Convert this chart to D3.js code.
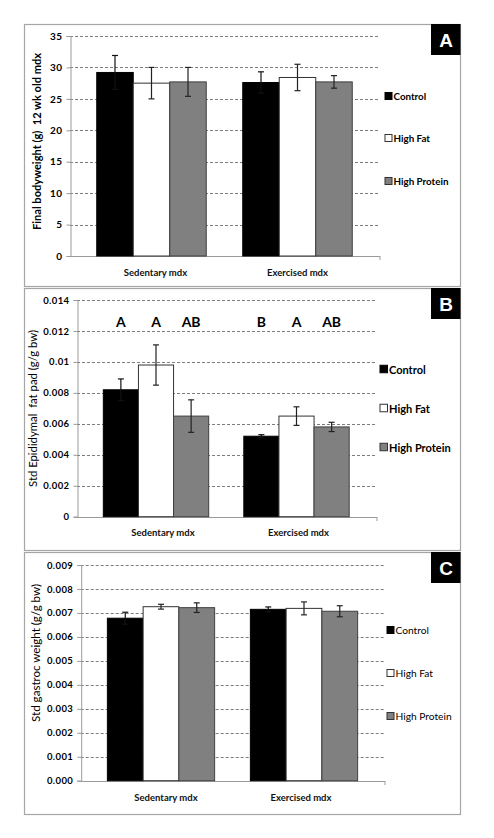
<!DOCTYPE html>
<html><head><meta charset="utf-8">
<script src="https://cdn.jsdelivr.net/npm/d3@7"></script>
<style>
html,body{margin:0;padding:0;background:#fff;}
svg{display:block;font-family:Lato,"Open Sans",sans-serif;}
</style></head>
<body><svg id="chart" width="494" height="838"></svg>
<script>
// ---- data ----
const categories = ["Sedentary mdx", "Exercised mdx"];
const seriesNames = ["Control", "High Fat", "High Protein"];
// values indexed [category][series]
const weightMeans  = [[29.2, 27.5, 27.7], [27.6, 28.4, 27.7]];
const weightErrors = [[2.7, 2.5, 2.3], [1.7, 2.1, 1.0]];
const weightTicks  = [0, 5, 10, 15, 20, 25, 30, 35];

const fatMeans   = [[0.0082, 0.0098, 0.0065], [0.0052, 0.0065, 0.0058]];
const fatErrors  = [[0.0007, 0.0013, 0.00105], [0.0001, 0.0006, 0.0003]];
const fatLetters = [["A", "A", "AB"], ["B", "A", "AB"]];
const fatTicks   = [0, 0.002, 0.004, 0.006, 0.008, 0.01, 0.012, 0.014];

const gastrocMeans  = [[0.00678, 0.00726, 0.00722], [0.00715, 0.00719, 0.00707]];
const gastrocErrors = [[0.00025, 0.0001, 0.0002], [0.0001, 0.00027, 0.00023]];
const gastrocTicks  = [0, 0.001, 0.002, 0.003, 0.004, 0.005, 0.006, 0.007, 0.008, 0.009];

const panelLabels = ["A", "B", "C"];
const yTitles = ["Final bodyweight (g)  12 wk old mdx", "Std Epididymal  fat pad (g/g bw)", "Std gastroc weight (g/g bw)"];

// ---- styles ----
const fills = ["#000000", "#ffffff", "#808080"];
const strokes = ["#000000", "#333333", "#404040"];

const svg = d3.select("#chart");

function drawPanel(cfg) {
  const g = svg.append("g");
  // frame
  g.append("rect").attr("x", cfg.box[0] + 0.5).attr("y", cfg.box[1] + 0.5)
    .attr("width", cfg.box[2] - cfg.box[0]).attr("height", cfg.box[3] - cfg.box[1])
    .attr("fill", "#fff").attr("stroke", "#a6a6a6").attr("stroke-width", 1.2);

  const y = d3.scaleLinear().domain([cfg.ticks[0], cfg.ticks[cfg.ticks.length - 1]]).range([cfg.yBottom, cfg.yTop]);
  const x0 = d3.scaleBand().domain(categories).range(cfg.band).padding(0);
  const x1 = d3.scaleBand().domain(seriesNames).range([x0.bandwidth() * 0.125, x0.bandwidth() * 0.875]).padding(0);

  // gridlines
  g.append("g").selectAll("line").data(cfg.ticks.slice(1)).join("line")
    .attr("x1", cfg.axisX).attr("x2", cfg.plotRight)
    .attr("y1", d => Math.round(y(d)) + 0.5).attr("y2", d => Math.round(y(d)) + 0.5)
    .attr("stroke", "#6e6e6e").attr("stroke-width", 0.9).attr("stroke-dasharray", "3,2");

  // y axis
  const yAxis = d3.axisLeft(y).tickValues(cfg.ticks).tickFormat(cfg.fmt).tickSize(4).tickPadding(4);
  const ya = g.append("g").attr("transform", `translate(${cfg.axisX + 0.5},0)`).call(yAxis);
  ya.select(".domain").attr("stroke", "#9a9a9a");
  ya.selectAll(".tick line").attr("stroke", "#9a9a9a");
  ya.selectAll(".tick text").attr("font-size", cfg.tickFont).attr("font-weight", "bold").attr("fill", "#000")
    .attr("font-family", "Lato,sans-serif").attr("letter-spacing", 0.4);

  // x axis line
  g.append("line").attr("x1", cfg.axisX).attr("x2", cfg.plotRight + 1)
    .attr("y1", Math.round(cfg.yBottom) + 0.5).attr("y2", Math.round(cfg.yBottom) + 0.5).attr("stroke", "#9a9a9a");
  g.append("line").attr("x1", cfg.plotRight + 1).attr("x2", cfg.plotRight + 1)
    .attr("y1", Math.round(cfg.yBottom)).attr("y2", Math.round(cfg.yBottom) + 4).attr("stroke", "#9a9a9a");

  // bars
  const groups = g.append("g").selectAll("g").data(categories).join("g")
    .attr("transform", c => `translate(${x0(c)},0)`);
  groups.each(function (c, ci) {
    const gg = d3.select(this);
    seriesNames.forEach((s, si) => {
      const v = cfg.means[ci][si], e = cfg.errors[ci][si];
      const bx = x1(s), bw = x1.bandwidth();
      gg.append("rect").attr("x", bx).attr("y", y(v)).attr("width", bw).attr("height", y(cfg.ticks[0]) - y(v))
        .attr("fill", fills[si]).attr("stroke", strokes[si]).attr("stroke-width", 1);
      const cx = bx + bw / 2;
      const ec = si === 0 ? "#111" : "#222";
      gg.append("line").attr("x1", cx).attr("x2", cx).attr("y1", y(v + e)).attr("y2", y(v - e))
        .attr("stroke", ec).attr("stroke-width", 1.2);
      [v + e, v - e].forEach(t => {
        gg.append("line").attr("x1", cx - 3).attr("x2", cx + 3).attr("y1", y(t)).attr("y2", y(t))
          .attr("stroke", ec).attr("stroke-width", 1.2);
      });
      if (cfg.letters) {
        gg.append("text").attr("x", cx).attr("y", cfg.letterY).attr("text-anchor", "middle")
          .attr("dominant-baseline", "central").attr("font-size", 14).attr("font-weight", "bold")
          .attr("font-family", "Lato,sans-serif").text(cfg.letters[ci][si]);
      }
    });
  });

  // category labels
  g.append("g").selectAll("text").data(categories).join("text")
    .attr("x", (c, i) => x0(c) + x0.bandwidth() / 2 + cfg.catShift[i]).attr("y", cfg.catY)
    .attr("text-anchor", "middle").attr("dominant-baseline", "central")
    .attr("font-size", cfg.catFont).attr("font-weight", "bold").attr("fill", "#111").text(c => c);

  // y title
  g.append("text").attr("transform", `translate(${cfg.titleX},${cfg.titleY}) rotate(-90)`)
    .attr("text-anchor", "middle").attr("dominant-baseline", "central")
    .attr("font-size", cfg.titleFont).attr("font-weight", cfg.titleWeight).attr("fill", "#000")
    .attr("textLength", cfg.titleLen).attr("lengthAdjust", "spacingAndGlyphs")
    .style("white-space", "pre").text(cfg.title);

  // legend
  const lg = g.append("g").selectAll("g").data(seriesNames).join("g")
    .attr("transform", (s, i) => `translate(${cfg.legX},${cfg.legY[i]})`);
  lg.append("rect").attr("x", 0).attr("y", -cfg.legSq / 2).attr("width", cfg.legSq).attr("height", cfg.legSq)
    .attr("fill", (s, i) => fills[i]).attr("stroke", (s, i) => i === 0 ? "#000" : "#333").attr("stroke-width", 1);
  lg.append("text").attr("x", cfg.legSq + 1.5).attr("y", 0).attr("dominant-baseline", "central")
    .attr("font-size", cfg.legFont).attr("font-weight", cfg.legWeight).attr("fill", "#000").text(s => s);

  // panel label
  g.append("rect").attr("x", 431).attr("y", cfg.box[1]).attr("width", 29.5).attr("height", 31).attr("fill", "#000");
  g.append("text").attr("x", 446).attr("y", cfg.box[1] + 16.5).attr("text-anchor", "middle")
    .attr("dominant-baseline", "central").attr("font-size", 19).attr("font-weight", "bold")
    .attr("font-family", "Liberation Sans, Arial, sans-serif").attr("fill", "#fff").text(cfg.label);
}

drawPanel({
  box: [24, 24, 460, 286], label: panelLabels[0], ticks: weightTicks, fmt: d3.format("d"),
  means: weightMeans, errors: weightErrors, axisX: 70, plotRight: 379, yTop: 36, yBottom: 256,
  band: [78.5, 370.5], tickFont: 10, catY: 272, catFont: 9.5, catShift: [4, 0],
  title: yTitles[0], titleX: 37, titleY: 141.5, titleFont: 10.5, titleWeight: "bold", titleLen: 177,
  legX: 385, legY: [96, 138, 181], legSq: 7, legFont: 9.8, legWeight: "bold"
});
drawPanel({
  box: [24, 288, 460, 550], label: panelLabels[1], ticks: fatTicks, fmt: d3.format("~g"),
  means: fatMeans, errors: fatErrors, letters: fatLetters, letterY: 321,
  axisX: 77, plotRight: 376, yTop: 300, yBottom: 516.7,
  band: [85.75, 366.75], tickFont: 9.5, catY: 532, catFont: 9.5, catShift: [7, 2],
  title: yTitles[1], titleX: 33, titleY: 408.5, titleFont: 10.5, titleWeight: "normal", titleLen: 157,
  legX: 380, legY: [369, 408, 447], legSq: 7.5, legFont: 11, legWeight: "bold"
});
drawPanel({
  box: [24, 552, 460, 814], label: panelLabels[2], ticks: gastrocTicks, fmt: d3.format(".3f"),
  means: gastrocMeans, errors: gastrocErrors, axisX: 80.7, plotRight: 384, yTop: 565, yBottom: 780.7,
  band: [89.5, 375.5], tickFont: 9.5, catY: 797, catFont: 9.5, catShift: [5, -3],
  title: yTitles[2], titleX: 35, titleY: 653, titleFont: 10.8, titleWeight: "normal", titleLen: 138,
  legX: 387, legY: [630, 673, 716], legSq: 7, legFont: 10.2, legWeight: "normal"
});
</script></body></html>
